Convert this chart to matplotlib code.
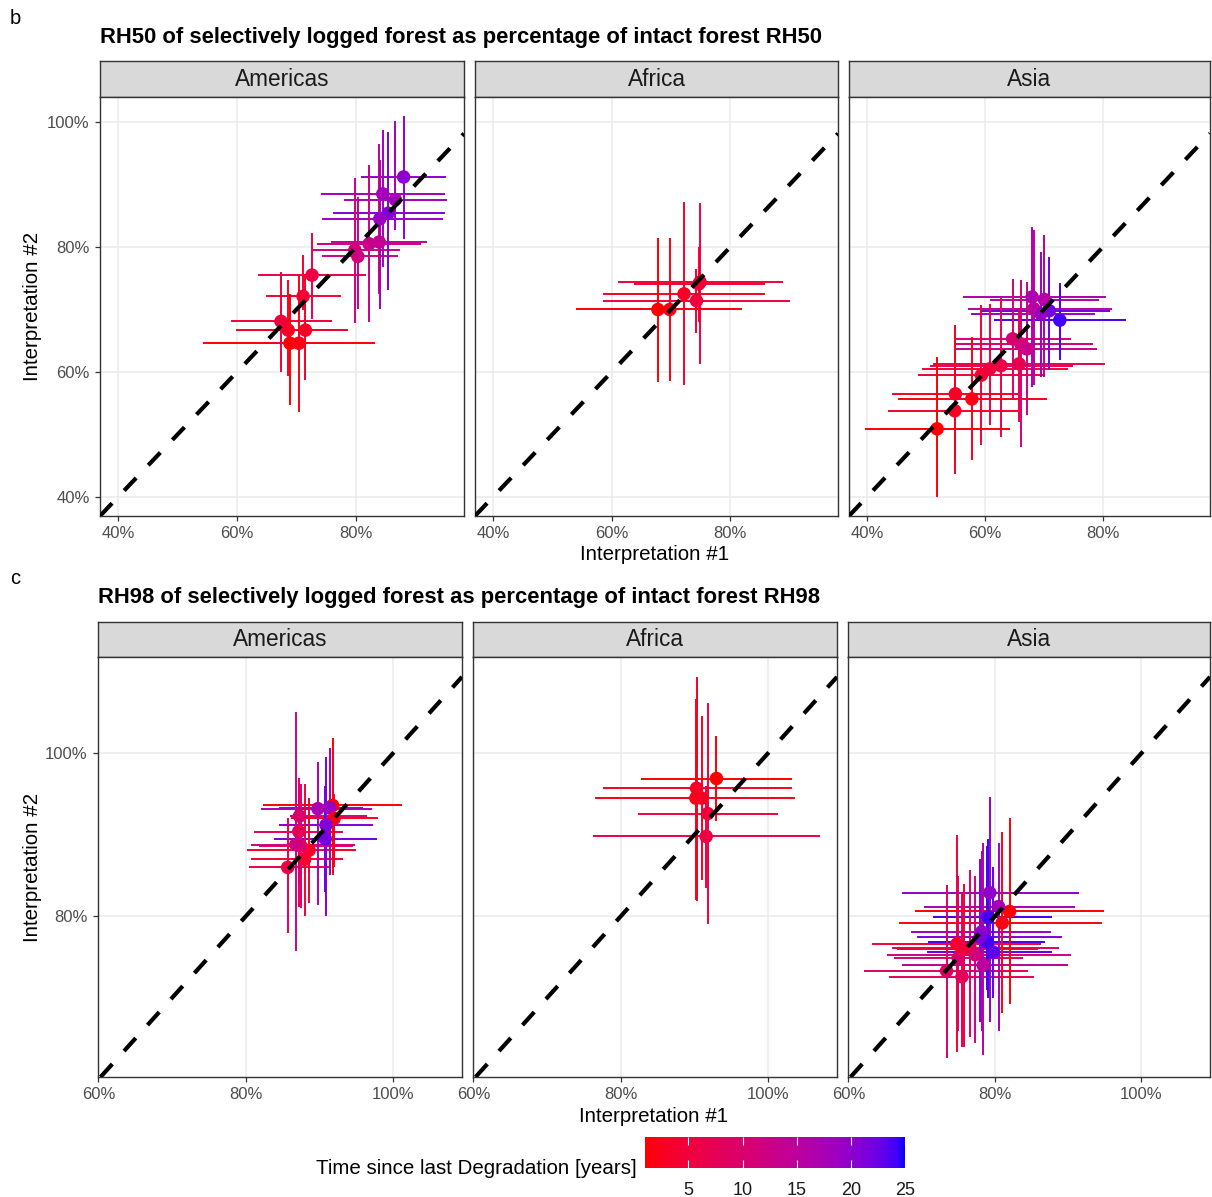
import numpy as np
import matplotlib
matplotlib.use("Agg")
import matplotlib.pyplot as plt
from matplotlib.colors import ListedColormap, Normalize
from matplotlib.cm import ScalarMappable

plt.rcParams['font.family'] = ['Liberation Sans', 'DejaVu Sans']

# RH50 - Americas (percent of intact forest)
rh50_am_x = [88.0, 84.5, 86.6, 85.4, 84.0, 83.9, 82.2, 79.8, 80.3, 72.6, 71.1, 67.4, 68.6, 71.5, 68.9, 70.4]
rh50_am_y = [91.2, 88.5, 87.6, 85.4, 84.5, 80.8, 80.5, 79.5, 78.5, 75.5, 72.1, 68.1, 66.7, 66.7, 64.6, 64.6]
rh50_am_xlo = [80.8, 74.1, 77.9, 76.2, 74.2, 75.8, 73.5, 72.8, 74.3, 63.6, 64.8, 59.0, 59.9, 64.3, 54.2, 64.4]
rh50_am_xhi = [95.1, 94.9, 95.3, 95.0, 94.7, 91.9, 90.9, 87.4, 87.1, 81.6, 77.5, 75.9, 76.7, 78.7, 83.2, 78.1]
rh50_am_ylo = [81.3, 76.8, 82.7, 73.1, 70.1, 72.5, 68.0, 67.8, 70.0, 68.5, 69.9, 60.0, 59.3, 58.7, 54.7, 53.6]
rh50_am_yhi = [101.0, 98.7, 100.2, 98.4, 93.9, 96.5, 93.1, 91.1, 88.0, 82.2, 78.7, 76.0, 74.7, 75.5, 72.5, 75.5]
rh50_am_t = [20, 18, 18, 21, 19, 14, 13, 12, 12, 6, 4, 5, 3, 3, 1, 2]

# RH50 - Africa
rh50_af_x = [67.8, 69.8, 72.2, 74.3, 74.9, 74.7]
rh50_af_y = [70.0, 70.0, 72.5, 71.4, 74.4, 74.1]
rh50_af_xlo = [54.0, 57.6, 58.5, 58.6, 61.1, 63.8]
rh50_af_xhi = [82.0, 81.8, 85.9, 90.0, 88.8, 85.9]
rh50_af_ylo = [58.4, 58.6, 57.9, 66.2, 61.2, 68.0]
rh50_af_yhi = [81.4, 81.4, 87.2, 76.5, 87.1, 80.0]
rh50_af_t = [1, 2, 3, 5, 5, 4]

# RH50 - Asia
rh50_as_x = [68.0, 70.1, 68.3, 70.9, 69.5, 72.7, 64.7, 66.1, 67.1, 65.8, 62.7, 60.8, 59.4, 55.0, 57.8, 54.9, 51.9]
rh50_as_y = [72.0, 71.6, 70.1, 69.8, 69.3, 68.3, 65.3, 64.5, 63.7, 61.3, 61.0, 60.5, 59.5, 56.5, 55.7, 53.8, 50.9]
rh50_as_xlo = [56.3, 60.8, 57.2, 59.4, 57.6, 61.6, 54.8, 55.1, 54.9, 51.2, 50.7, 49.3, 48.7, 44.2, 45.3, 43.5, 39.6]
rh50_as_xhi = [80.5, 79.4, 81.6, 81.2, 78.7, 83.9, 74.6, 78.4, 79.0, 80.3, 74.9, 74.1, 70.0, 65.8, 70.5, 66.1, 64.3]
rh50_as_ylo = [57.6, 59.2, 57.9, 60.3, 59.2, 61.9, 55.5, 48.0, 53.1, 52.0, 49.6, 51.5, 48.3, 45.9, 45.9, 43.7, 40.0]
rh50_as_yhi = [83.2, 81.9, 82.7, 78.4, 79.2, 74.2, 74.9, 74.7, 74.4, 70.0, 72.0, 70.9, 70.7, 67.5, 65.6, 66.1, 62.4]
rh50_as_t = [17, 16, 15, 22, 19, 24, 10, 11, 13, 7, 6, 5, 4, 3, 2, 3, 1]

# RH98 - Americas
rh98_am_x = [85.7, 91.8, 89.8, 91.4, 92.0, 90.9, 90.8, 87.2, 87.3, 88.6, 87.5, 88.0, 86.8]
rh98_am_y = [86.0, 93.6, 93.2, 93.3, 92.0, 91.2, 89.5, 90.4, 92.3, 88.1, 88.6, 87.0, 88.8]
rh98_am_xlo = [80.5, 82.4, 82.1, 84.5, 86.1, 84.5, 83.8, 81.1, 86.0, 80.2, 81.8, 80.7, 80.7]
rh98_am_xhi = [91.4, 101.2, 97.2, 95.9, 97.9, 97.3, 97.8, 93.2, 96.4, 95.0, 94.5, 93.2, 94.8]
rh98_am_ylo = [78.0, 85.1, 81.4, 85.1, 86.0, 80.1, 83.0, 81.2, 84.0, 81.6, 81.0, 80.0, 75.7]
rh98_am_yhi = [92.0, 101.9, 98.9, 100.7, 95.0, 99.5, 96.0, 96.2, 97.0, 94.5, 96.2, 96.2, 105.0]
rh98_am_t = [6, 1, 17, 19, 2, 21, 22, 8, 10, 3, 9, 4, 12]

# RH98 - Africa
rh98_af_x = [93.0, 90.3, 90.2, 91.0, 91.8, 91.6]
rh98_af_y = [96.9, 95.7, 94.5, 94.5, 92.6, 89.8]
rh98_af_xlo = [82.8, 77.6, 76.5, 80.4, 82.4, 76.2]
rh98_af_xhi = [103.2, 103.2, 103.7, 100.9, 101.3, 107.1]
rh98_af_ylo = [91.7, 81.9, 82.0, 84.4, 79.0, 83.5]
rh98_af_yhi = [102.1, 109.4, 106.6, 104.6, 106.1, 96.0]
rh98_af_t = [1, 3, 2, 3, 5, 6]

# RH98 - Asia
rh98_as_x = [73.4, 75.5, 74.8, 75.0, 82.0, 81.0, 80.5, 79.3, 78.2, 78.9, 79.1, 77.3, 78.4, 76.6, 75.8, 79.8, 78.0]
rh98_as_y = [73.3, 72.6, 76.6, 74.9, 80.6, 79.2, 81.2, 82.9, 78.1, 76.9, 79.9, 75.3, 74.0, 76.1, 76.0, 75.6, 77.5]
rh98_as_xlo = [62.2, 65.5, 63.2, 66.2, 69.1, 66.9, 70.3, 67.3, 68.6, 70.9, 71.6, 65.3, 67.3, 65.9, 66.6, 70.7, 69.4]
rh98_as_xhi = [84.5, 85.4, 86.3, 83.8, 94.9, 94.6, 90.9, 91.5, 87.7, 86.8, 87.8, 90.4, 90.0, 88.8, 85.9, 87.8, 89.1]
rh98_as_ylo = [62.6, 64.0, 63.4, 66.0, 69.3, 68.1, 66.0, 67.0, 66.0, 71.0, 70.0, 64.5, 63.0, 65.2, 64.0, 70.0, 67.0]
rh98_as_yhi = [83.9, 83.0, 90.0, 85.0, 92.0, 90.4, 89.0, 94.6, 88.0, 88.6, 89.5, 85.0, 89.0, 85.7, 84.0, 86.0, 87.0]
rh98_as_t = [9, 8, 4, 10, 1, 2, 18, 20, 19, 24, 24, 12, 15, 10, 5, 23, 21]

regions = ["Americas", "Africa", "Asia"]
t_ticks = [5, 10, 15, 20, 25]


# red -> blue gradient interpolated in Lab space
def srgb_to_lab(rgb):
    rgb = np.asarray(rgb, dtype=float)
    lin = np.where(rgb <= 0.04045, rgb / 12.92, ((rgb + 0.055) / 1.055) ** 2.4)
    M = np.array([[0.4124, 0.3576, 0.1805],
                  [0.2126, 0.7152, 0.0722],
                  [0.0193, 0.1192, 0.9505]])
    xyz = M @ lin / np.array([0.95047, 1.0, 1.08883])
    f = np.where(xyz > 0.008856, np.cbrt(xyz), 7.787 * xyz + 16 / 116)
    return np.array([116 * f[1] - 16, 500 * (f[0] - f[1]), 200 * (f[1] - f[2])])


def lab_to_srgb(lab):
    L, a, b = lab
    fy = (L + 16) / 116
    fx = fy + a / 500
    fz = fy - b / 200
    f = np.array([fx, fy, fz])
    xyz = np.where(f ** 3 > 0.008856, f ** 3, (f - 16 / 116) / 7.787)
    xyz = xyz * np.array([0.95047, 1.0, 1.08883])
    Minv = np.array([[3.2406, -1.5372, -0.4986],
                     [-0.9689, 1.8758, 0.0415],
                     [0.0557, -0.2040, 1.0570]])
    lin = np.clip(Minv @ xyz, 0, 1)
    rgb = np.where(lin <= 0.0031308, 12.92 * lin, 1.055 * lin ** (1 / 2.4) - 0.055)
    return np.clip(rgb, 0, 1)


lab_lo = srgb_to_lab([1, 0, 0])
lab_hi = srgb_to_lab([0, 0, 1])
cmap = ListedColormap([lab_to_srgb(lab_lo + s * (lab_hi - lab_lo)) for s in np.linspace(0, 1, 256)])
norm = Normalize(vmin=1, vmax=25)

W, H = 1212, 1197
fig = plt.figure(figsize=(W / 100, H / 100), dpi=100)


def px_axes(x0, y0, x1, y1):
    return fig.add_axes([x0 / W, 1 - y1 / H, (x1 - x0) / W, (y1 - y0) / H])


def pct(v, pos):
    return f"{v:.0f}%"


def draw_row(panels, cols, strip_y, plot_y, xlim, ylim, xticks, yticks, letter, title):
    top = strip_y[0]
    fig.text(10 / W, 1 - (top - 43) / H, letter, fontsize=14.5, ha='left', va='center')
    fig.text(cols[0][0] / W, 1 - (top - 24) / H, title, fontsize=15.8, fontweight='bold',
             ha='left', va='center')
    for i, (name, d) in enumerate(zip(regions, panels)):
        x0, x1 = cols[i]
        # strip header
        sax = px_axes(x0, strip_y[0], x1, strip_y[1])
        sax.set_facecolor('#D9D9D9')
        sax.set_xticks([])
        sax.set_yticks([])
        for sp in sax.spines.values():
            sp.set_color('#333333')
            sp.set_linewidth(1.0)
        sax.text(0.5, 0.5, name, fontsize=16.3, color='#1A1A1A', ha='center', va='center',
                 transform=sax.transAxes)

        ax = px_axes(x0, plot_y[0], x1, plot_y[1])
        x, y, xlo, xhi, ylo, yhi, t = [np.asarray(v, dtype=float) for v in d]
        c = cmap(norm(t))
        ax.hlines(y, xlo, xhi, colors=c, lw=1.4, zorder=2)
        ax.vlines(x, ylo, yhi, colors=c, lw=1.4, zorder=2)
        ax.scatter(x, y, s=95, c=t, cmap=cmap, norm=norm, edgecolors='none', zorder=3)
        ax.axline((0, 0), slope=1, color='black', lw=3, linestyle=(0, (4.2, 4.2)), zorder=4)

        ax.set_xlim(xlim)
        ax.set_ylim(ylim)
        ax.set_xticks(xticks)
        ax.set_yticks(yticks)
        ax.xaxis.set_major_formatter(plt.FuncFormatter(pct))
        ax.yaxis.set_major_formatter(plt.FuncFormatter(pct))
        ax.grid(True, color='#EBEBEB', lw=1.1, zorder=0)
        ax.set_axisbelow(True)
        for sp in ax.spines.values():
            sp.set_color('#333333')
            sp.set_linewidth(1.0)
        ax.tick_params(length=3.5, width=0.9, color='#333333', labelcolor='#4D4D4D',
                       labelsize=12, pad=4)
        if i > 0:
            ax.tick_params(axis='y', left=False, labelleft=False)

    xc = (cols[0][0] + cols[2][1]) / 2
    fig.text(xc / W, 1 - (plot_y[1] + 39) / H, "Interpretation #1", fontsize=14.8,
             ha='center', va='center')
    yc = (plot_y[0] + plot_y[1]) / 2
    fig.text(33 / W, 1 - yc / H, "Interpretation #2", fontsize=14.8, rotation=90,
             ha='center', va='center')


rh50_panels = [
    (rh50_am_x, rh50_am_y, rh50_am_xlo, rh50_am_xhi, rh50_am_ylo, rh50_am_yhi, rh50_am_t),
    (rh50_af_x, rh50_af_y, rh50_af_xlo, rh50_af_xhi, rh50_af_ylo, rh50_af_yhi, rh50_af_t),
    (rh50_as_x, rh50_as_y, rh50_as_xlo, rh50_as_xhi, rh50_as_ylo, rh50_as_yhi, rh50_as_t),
]
rh98_panels = [
    (rh98_am_x, rh98_am_y, rh98_am_xlo, rh98_am_xhi, rh98_am_ylo, rh98_am_yhi, rh98_am_t),
    (rh98_af_x, rh98_af_y, rh98_af_xlo, rh98_af_xhi, rh98_af_ylo, rh98_af_yhi, rh98_af_t),
    (rh98_as_x, rh98_as_y, rh98_as_xlo, rh98_as_xhi, rh98_as_ylo, rh98_as_yhi, rh98_as_t),
]

draw_row(rh50_panels, [(100, 464), (475, 838), (849, 1210)], (61, 97), (97, 516),
         (36.97, 98.15), (36.96, 104.0), [40, 60, 80], [40, 60, 80, 100], "b",
         "RH50 of selectively logged forest as percentage of intact forest RH50")
draw_row(rh98_panels, [(98, 462), (473, 837), (848, 1210)], (622, 657), (657, 1077),
         (59.95, 109.36), (60.3, 111.8), [60, 80, 100], [80, 100], "c",
         "RH98 of selectively logged forest as percentage of intact forest RH98")

# colour legend
cax = px_axes(645, 1137, 905, 1168)
cb = fig.colorbar(ScalarMappable(norm=norm, cmap=cmap), cax=cax, orientation='horizontal')
cb.outline.set_visible(False)
cb.set_ticks(t_ticks)
cax.tick_params(direction='in', color='white', length=6, width=0.8, top=True,
                labelsize=13, labelcolor='#1A1A1A', pad=10)
fig.text(637 / W, 1 - 1168 / H, "Time since last Degradation [years]", fontsize=14.8,
         ha='right', va='center')

fig.savefig("out.png", dpi=100)
